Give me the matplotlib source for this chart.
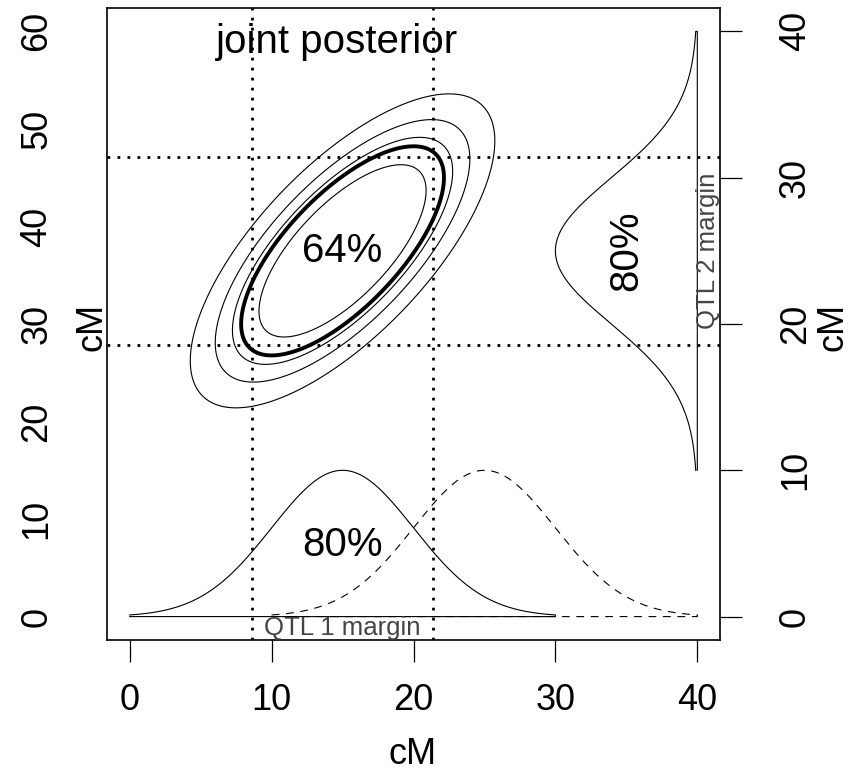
import numpy as np
import matplotlib
matplotlib.use("Agg")
import matplotlib.pyplot as plt

plt.rcParams['font.family'] = ['Liberation Sans', 'DejaVu Sans']

# Posterior summaries for the two QTL positions (cM)
qtl_means = [15.0, 25.0]
qtl_sds = [5.0, 5.0]
qtl_corr = 0.70
# HPD probability contours of the joint posterior
contour_probs = [0.50, 0.70, 0.80, 0.90]
highlight_prob = 0.64
marginal_prob = 0.80
z_marginal = 1.2816          # standard normal quantile for a central 80% interval
marginal_height = 10.0       # peak height of each marginal curve (cM of the other axis)
y_stretch = 1.5              # left axis units per cM of QTL 2

x_ticks = [0, 10, 20, 30, 40]
left_ticks = [0, 10, 20, 30, 40, 50, 60]
right_ticks = [0, 10, 20, 30, 40]

W, H = 866, 780
fig = plt.figure(figsize=(W / 100, H / 100), dpi=100)
L, R, T, B = 107, 720, 8, 640
ax = fig.add_axes([L / W, 1 - B / H, (R - L) / W, (B - T) / H])
ax.set_xlim(-1.6, 41.6)
ax.set_ylim(-2.4, 62.4)
for s in ax.spines.values():
    s.set_linewidth(1.2)

m1, m2 = qtl_means
s1, s2 = qtl_sds
rho = qtl_corr

# 80% marginal intervals as dotted guides
dot = dict(color='black', lw=2.0, linestyle=(0, (1, 2.6)), dash_capstyle='butt')
for x in (m1 - z_marginal * s1, m1 + z_marginal * s1):
    ax.axvline(x, **dot)
for q in (m2 - z_marginal * s2, m2 + z_marginal * s2):
    ax.axhline(q * y_stretch, **dot)

# joint posterior contours
g1 = np.linspace(0, 40, 801)
g2 = np.linspace(0, 40, 801)
Q1, Q2 = np.meshgrid(g1, g2)
z1 = (Q1 - m1) / s1
z2 = (Q2 - m2) / s2
r2 = (z1 ** 2 - 2 * rho * z1 * z2 + z2 ** 2) / (1 - rho ** 2)
dens = np.exp(-r2 / 2)
levels = sorted(1 - p for p in contour_probs)
ax.contour(Q1, Q2 * y_stretch, dens, levels=levels, colors='black', linewidths=0.8)
ax.contour(Q1, Q2 * y_stretch, dens, levels=[1 - highlight_prob], colors='black',
           linewidths=2.8)

# marginal curves
def bump(v, m, s):
    return np.exp(-0.5 * ((v - m) / s) ** 2)

dash = dict(color='black', lw=0.8, linestyle=(0, (7, 6)))
# QTL 2 margin drawn along the x axis (dashed)
xb = np.linspace(m2 - 3 * s2, m2 + 3 * s2, 300)
yb = bump(xb, m2, s2) * marginal_height * y_stretch
ax.plot(np.r_[xb, xb[::-1]], np.r_[yb, np.zeros_like(yb)], **dash)
# QTL 1 margin (solid)
xa = np.linspace(m1 - 3 * s1, m1 + 3 * s1, 300)
ya = bump(xa, m1, s1) * marginal_height * y_stretch
ax.plot(np.r_[xa, xa[::-1]], np.r_[ya, np.zeros_like(ya)], color='black', lw=0.8)
# QTL 2 margin on the right side
qc = np.linspace(m2 - 3 * s2, m2 + 3 * s2, 300)
xc = 40 - bump(qc, m2, s2) * marginal_height
ax.plot(np.r_[xc, np.full_like(qc, 40)], np.r_[qc, qc[::-1]] * y_stretch,
        color='black', lw=0.8)

# labels inside the plot
big = 29
ax.text(14.6, 58.9, 'joint posterior', fontsize=big, ha='center', va='center')
ax.text(m1, m2 * y_stretch, f'{round(highlight_prob * 100)}%', fontsize=big,
        ha='center', va='center')
ax.text(m1, 7.3, f'{round(marginal_prob * 100)}%', fontsize=big, ha='center', va='center')
ax.text(35.0, m2 * y_stretch, f'{round(marginal_prob * 100)}%', fontsize=big,
        ha='center', va='center', rotation=90)
ax.text(m1, -1.2, 'QTL 1 margin', fontsize=18.5, color='#444444', ha='center', va='center')
ax.text(40.75, m2 * y_stretch, 'QTL 2 margin', fontsize=18.5, color='#444444',
        ha='center', va='center', rotation=90)

# axes
fs = 26
ax.set_xticks(x_ticks)
ax.set_xticklabels([str(t) for t in x_ticks])
ax.tick_params(axis='x', direction='out', length=15.8, width=0.9, pad=15, labelsize=fs)
ax.set_yticks(left_ticks)
ax.set_yticklabels([str(t) for t in left_ticks])
ax.tick_params(axis='y', length=0, pad=38, labelsize=fs, labelrotation=90)
for lab in ax.get_yticklabels():
    lab.set_va('center')

sec = ax.secondary_yaxis('right', functions=(lambda y: y / y_stretch, lambda y: y * y_stretch))
sec.set_yticks(right_ticks)
sec.set_yticklabels([str(t) for t in right_ticks])
sec.tick_params(direction='out', length=15.8, width=0.9, pad=26, labelsize=fs,
                labelrotation=90)
for lab in sec.get_yticklabels():
    lab.set_va('center')
sec.spines['right'].set_visible(False)

fig.text(92 / W, 1 - 327 / H, 'cM', fontsize=fs, rotation=90, ha='center', va='center')
fig.text(833 / W, 1 - 327 / H, 'cM', fontsize=fs, rotation=90, ha='center', va='center')
fig.text(413 / W, 1 - 755 / H, 'cM', fontsize=fs, ha='center', va='center')

fig.savefig('out.png', dpi=100)
